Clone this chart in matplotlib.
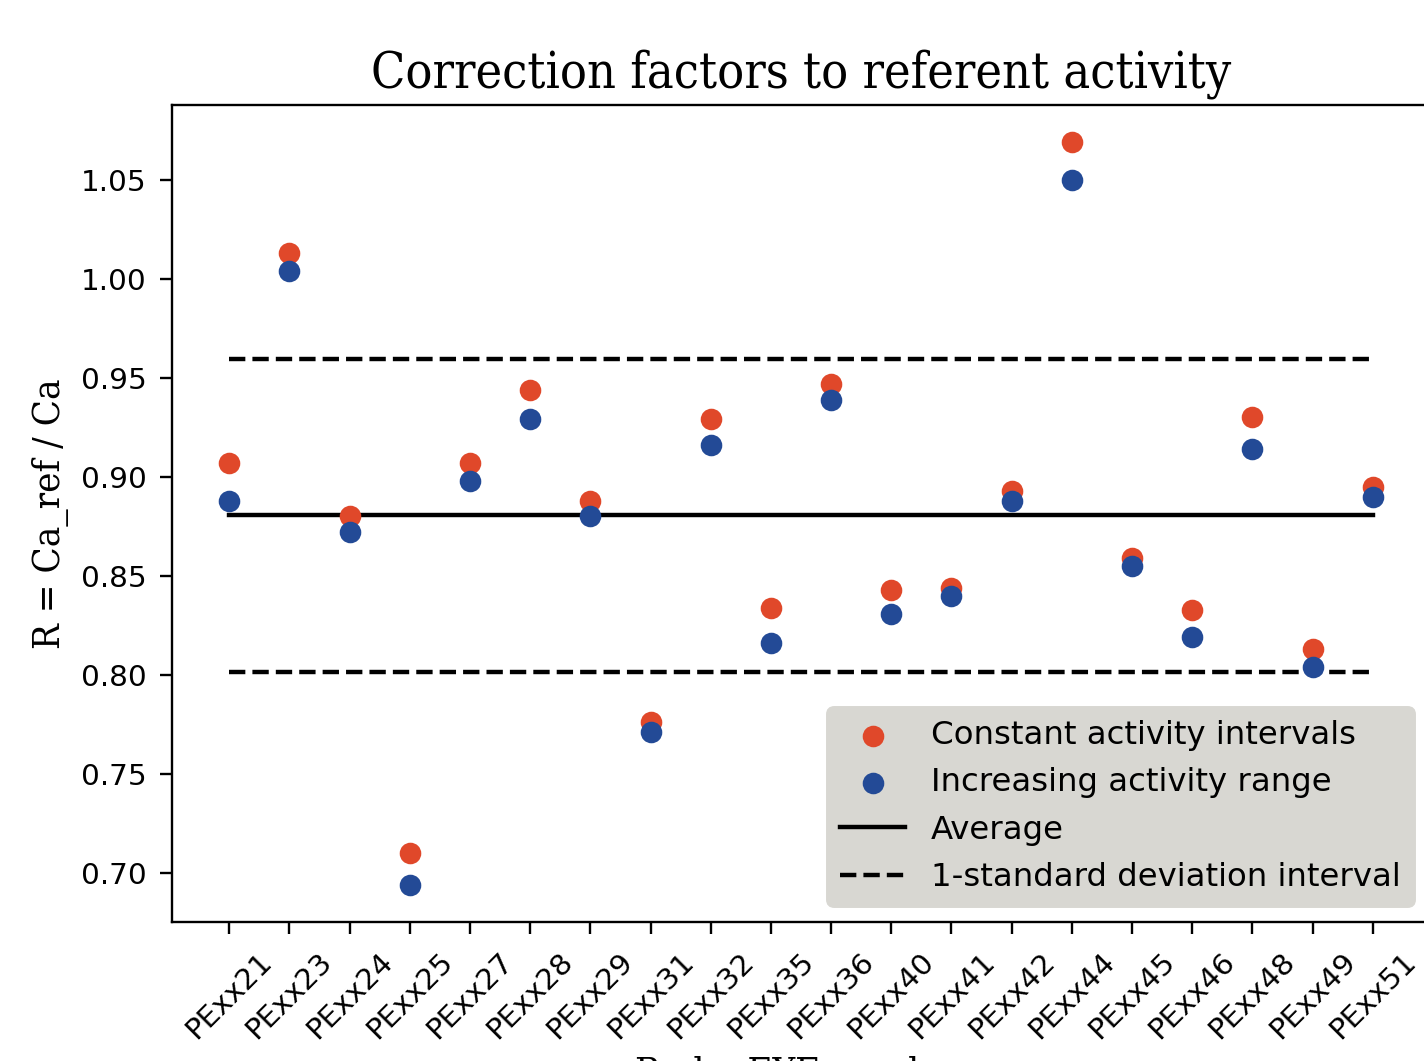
import numpy as np
import matplotlib
matplotlib.use('Agg')
import matplotlib.pyplot as plt

devices = ['PExx21', 'PExx23', 'PExx24', 'PExx25', 'PExx27', 'PExx28', 'PExx29',
           'PExx31', 'PExx32', 'PExx35', 'PExx36', 'PExx40', 'PExx41', 'PExx42',
           'PExx44', 'PExx45', 'PExx46', 'PExx48', 'PExx49', 'PExx51']

r_constant = [0.907, 1.013, 0.880, 0.710, 0.907, 0.944, 0.888, 0.776, 0.929, 0.834,
              0.947, 0.843, 0.844, 0.893, 1.069, 0.859, 0.833, 0.930, 0.813, 0.895]
r_increasing = [0.888, 1.004, 0.872, 0.694, 0.898, 0.929, 0.880, 0.771, 0.916, 0.816,
                0.939, 0.831, 0.840, 0.888, 1.050, 0.855, 0.819, 0.914, 0.804, 0.890]

r_average = 0.8806
r_std = 0.0789

dpi = 212
fig = plt.figure(figsize=(1424 / dpi, 1061 / dpi), dpi=dpi)
ax = fig.add_axes([0.1208, 0.1310, 0.8834, 0.7700])

x = np.arange(len(devices))

ax.plot([x[0], x[-1]], [r_average, r_average], color='black', linestyle='-', label='Average')
ax.plot([x[0], x[-1]], [r_average + r_std] * 2, color='black', linestyle='--',
        label='1-standard deviation interval')
ax.plot([x[0], x[-1]], [r_average - r_std] * 2, color='black', linestyle='--')

ax.scatter(x, r_constant, s=40, color='#E0482A', label='Constant activity intervals', zorder=3)
ax.scatter(x, r_increasing, s=40, color='#234A96', label='Increasing activity range', zorder=3)

ax.set_xticks(x)
ax.set_xticklabels(devices, rotation=45)
ax.tick_params(axis='both', length=4, pad=4.5)

serif = dict(family='DejaVu Serif', fontstretch='condensed')
ax.set_title('Correction factors to referent activity', fontsize=17, **serif)
ax.set_ylabel('R = Ca_ref / Ca', fontsize=13, **serif)
ax.set_xlabel('RadonEYE number', fontsize=13, **serif)

handles, labels = ax.get_legend_handles_labels()
order = [2, 3, 0, 1]
leg = ax.legend([handles[i] for i in order], [labels[i] for i in order], loc='lower right',
                fontsize=11, facecolor='#D8D7D2', edgecolor='#D8D7D2', framealpha=1)

fig.savefig('out.png', dpi=dpi)
